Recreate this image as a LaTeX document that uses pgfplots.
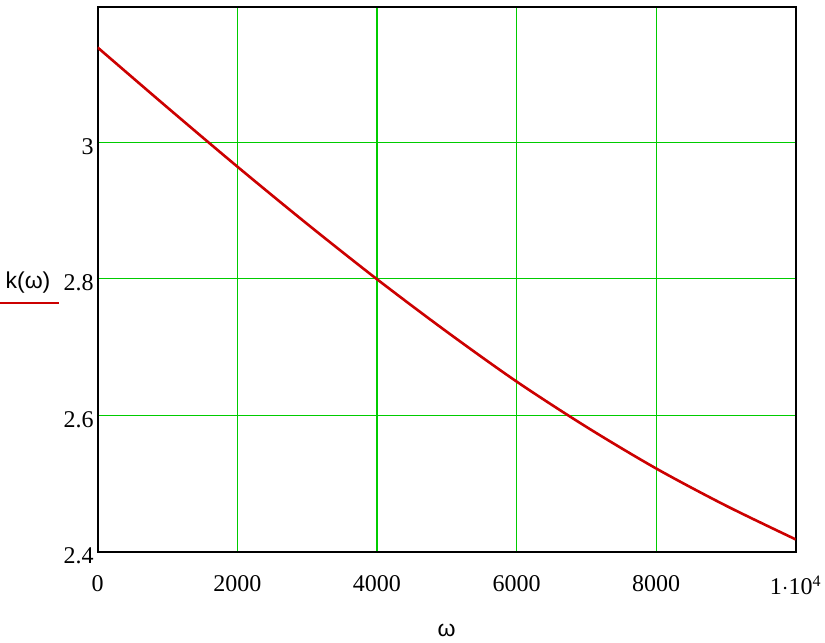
\documentclass[border=0pt]{standalone}
\usepackage{pgfplots}
\pgfplotsset{compat=1.18}
\usepackage{fontspec}
\setmainfont{Liberation Serif}
\newfontfamily\lsans{Liberation Sans}
\definecolor{mcgreen}{RGB}{0,204,0}
\definecolor{mcred}{RGB}{204,0,0}
\begin{document}
\begin{tikzpicture}
\begin{axis}[
  name=ax,
  scale only axis,
  width=349pt, height=272.2pt,
  xmin=0, xmax=10000,
  ymin=2.4, ymax=3.198,
  xtick={0,2000,4000,6000,8000,10000},
  xticklabels={0,2000,4000,6000,8000,{1$\cdot$10\textsuperscript{4}}},
  ytick={2.4,2.6,2.8,3},
  yticklabels={2.4,2.6,2.8,3},
  scaled x ticks=false,
  grid=major,
  major grid style={mcgreen, line width=0.6pt},
  major tick length=0pt,
  axis line style={line width=1.1pt},
  tick label style={font=\fontsize{12}{14}\selectfont},
  xticklabel style={yshift=-8.5pt},
  yticklabel style={xshift=1.5pt, yshift=-2pt},
  xlabel={\lsans ω},
  xlabel style={font=\fontsize{11.5}{13}\selectfont, at={(rel axis cs:0.5,0)}, anchor=center, yshift=-39.2pt},
]
\addplot[mcred, line width=1.3pt, smooth] coordinates {
  (0,3.139) (1000,3.051) (2000,2.9645) (3000,2.8805) (4000,2.7995)
  (5000,2.7225) (6000,2.6495) (7000,2.583) (8000,2.522) (9000,2.4675)
  (10000,2.418)
};
\end{axis}
% y label with its legend line, as Mathcad draws it
\node[font=\lsans\fontsize{11.5}{13}\selectfont, anchor=center]
  at ([xshift=-34.85pt, yshift=134.35pt]ax.south west) {k(ω)};
\draw[mcred, line width=1pt]
  ([xshift=-48.85pt, yshift=124.2pt]ax.south west) -- ([xshift=-19.35pt, yshift=124.2pt]ax.south west);
\pgfresetboundingbox
\path ([xshift=-48.85pt, yshift=-45.65pt]ax.south west) rectangle ([xshift=14.65pt, yshift=3.65pt]ax.north east);
\end{tikzpicture}
\end{document}
